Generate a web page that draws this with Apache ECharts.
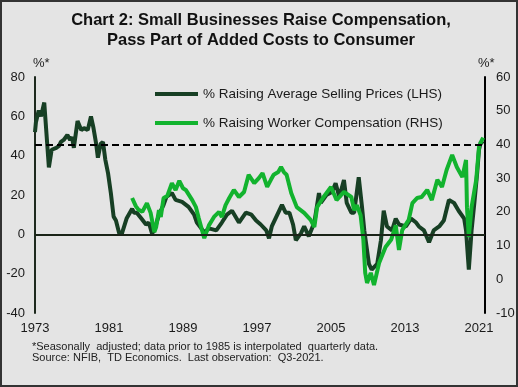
<!DOCTYPE html>
<html>
<head>
<meta charset="utf-8">
<script src="https://cdn.jsdelivr.net/npm/echarts@6/dist/echarts.min.js"></script>
<style>
html,body{margin:0;padding:0;background:#e4e4e4;}
#chart{width:518px;height:387px;}
</style>
</head>
<body>
<div id="chart"></div>
<script>
// ---- Data ----
const titleLines = ['Chart 2: Small Businesses Raise Compensation,', 'Pass Part of Added Costs to Consumer'];
const seriesNames = ['% Raising Average Selling Prices (LHS)', '% Raising Worker Compensation (RHS)'];
const footnotes = ['*Seasonally  adjusted; data prior to 1985 is interpolated  quarterly data.', 'Source: NFIB,  TD Economics.  Last observation:  Q3-2021.'];
const startYear = 1973;
const leftTicks = [-40, 80, 20];   // min, max, step
const rightTicks = [-10, 60, 10];
const refLineRHS = 40;

const priceYears = [1973.0,1973.1,1973.4,1973.65,1974.0,1974.5,1974.8,1975.3,1975.6,1975.8,1976.1,1976.5,1976.8,1977.0,1977.2,1977.6,1978.0,1978.3,1978.7,1979.05,1979.3,1979.6,1979.8,1980.1,1980.35,1980.6,1980.9,1981.2,1981.5,1981.75,1982.1,1982.4,1982.9,1983.5,1983.7,1984.0,1984.5,1985.0,1985.3,1985.65,1985.9,1986.4,1986.9,1987.2,1987.8,1988.2,1988.9,1989.6,1990.2,1990.5,1991.3,1991.8,1992.6,1993.2,1993.75,1994.3,1995.05,1995.8,1996.4,1996.9,1997.4,1998.0,1998.3,1998.6,1999.2,1999.7,2000.1,2000.5,2000.9,2001.2,2001.75,2002.1,2002.6,2003.2,2003.7,2003.9,2004.5,2005.1,2005.5,2005.9,2006.4,2006.7,2007.2,2007.5,2008.0,2008.35,2008.6,2009.1,2009.4,2010.0,2010.4,2010.7,2011.05,2011.6,2012.0,2012.35,2013.1,2013.65,2014.2,2014.5,2015.05,2015.6,2016.1,2016.7,2017.2,2017.75,2018.3,2018.8,2019.4,2019.6,2019.9,2020.2,2020.5,2020.8,2021.0,2021.2,2021.45];
const priceValues = [52,57,63,60,67,34,43,44,45,47,48,50.5,48,49.5,44,57.6,53,54,53,60,54.6,46.4,39,46,47,38,31,21,9,7,0.5,0.5,8,13,11,11,8,5,6,0.5,2,10,15,19,21,17.5,16.5,14,10,6,1,3,2,6,10,12,6,11,10,7,5,2,-2,4,10,15,11,11,5,-3,0.5,4,-1,6,21,16,20,21.5,26,19,27.6,16,11,11,29,14,2,-15,-18,-15,-3,12,4,2,8,5,4,8,6,4,2,-4,2,4,7,17.5,16,12,8,2,-18,2,16,31,43,47,46];

const compYears = [1983.5,1983.9,1984.2,1984.6,1985.1,1985.5,1985.9,1986.1,1986.4,1986.6,1986.9,1987.3,1987.8,1988.2,1988.6,1989.0,1989.3,1990.0,1990.4,1990.7,1991.05,1991.3,1991.8,1992.35,1992.9,1993.2,1993.6,1994.0,1994.5,1995.05,1995.6,1996.1,1996.7,1997.2,1997.6,1998.1,1998.5,1998.8,1999.3,1999.6,1999.9,2000.2,2000.7,2001.3,2002.1,2002.8,2003.2,2003.5,2004.2,2005.0,2005.6,2006.4,2007.2,2007.5,2007.8,2008.2,2008.5,2008.7,2008.9,2009.3,2009.65,2010.2,2010.9,2011.5,2012.0,2012.35,2012.7,2013.4,2013.8,2014.3,2014.8,2015.4,2015.9,2016.5,2017.0,2017.5,2018.1,2018.6,2019.2,2019.6,2019.7,2019.9,2020.2,2020.7,2021.0,2021.2,2021.45];
const compValues = [24.1,21.7,20.6,20,22.6,19.7,14,15.5,20.5,18.5,24.1,24.7,28.5,26.5,29.2,27,26.5,23.5,21.4,18.2,14.6,12.2,16,18.5,20,18.5,22,24.1,26.5,24.4,25.9,31,28.5,30,31.5,27.4,29.5,31,31.8,33.3,31.8,31,25.6,21.4,19.7,17.6,15.5,21.4,24.4,27.4,23.5,25.9,24.4,20.5,22,19,11.7,1.9,-1.1,1.9,-1.7,4.8,9.6,11.7,16,8.7,14.6,17.6,22.6,24.1,24.4,26.5,23.5,29.5,27.4,32.4,36.9,33.3,30.3,35.4,21.4,12.5,21.4,29.5,39.2,40.7,42];

// ---- Chart ----
const darkGreen = '#173f24';
const brightGreen = '#12b32e';
const font = 'Arial, "Liberation Sans", sans-serif';

const priceData = priceYears.map((y, i) => [y - startYear, priceValues[i]]);
const compData = compYears.map((y, i) => [y - startYear, compValues[i]]);

const chart = echarts.init(document.getElementById('chart'), null, {renderer: 'canvas'});
chart.setOption({
  backgroundColor: '#e4e4e4',
  animation: false,
  textStyle: {fontFamily: font},
  grid: {left: 35, right: 33, top: 77, bottom: 74, containLabel: false},
  graphic: [
    {type: 'rect', shape: {x: 1, y: 1, width: 516, height: 385}, style: {fill: 'none', stroke: '#333', lineWidth: 2}, silent: true},
    {type: 'text', x: 261, y: 20, style: {text: titleLines[0], font: 'bold 16.5px ' + font, fill: '#111', textAlign: 'center', textVerticalAlign: 'middle'}},
    {type: 'text', x: 261, y: 40, style: {text: titleLines[1], font: 'bold 16.5px ' + font, fill: '#111', textAlign: 'center', textVerticalAlign: 'middle'}},
    {type: 'text', x: 33, y: 63, style: {text: '%*', font: '13px ' + font, fill: '#222', textAlign: 'left', textVerticalAlign: 'middle'}},
    {type: 'text', x: 478, y: 63, style: {text: '%*', font: '13px ' + font, fill: '#222', textAlign: 'left', textVerticalAlign: 'middle'}},
    {type: 'text', x: 32, y: 347, style: {text: footnotes[0], font: '11px ' + font, fill: '#222', textAlign: 'left', textVerticalAlign: 'middle'}},
    {type: 'text', x: 32, y: 358, style: {text: footnotes[1], font: '11px ' + font, fill: '#222', textAlign: 'left', textVerticalAlign: 'middle'}}
  ],
  legend: {
    orient: 'vertical', left: 155, top: 86, padding: 0, itemWidth: 43, itemHeight: 4, itemGap: 13,
    icon: 'rect',
    textStyle: {fontSize: 13.5, color: '#1a1a1a', lineHeight: 16, fontFamily: font},
    data: seriesNames
  },
  xAxis: {
    type: 'value', min: 0, max: 48.65, interval: 8,
    axisLine: {show: false}, axisTick: {show: false}, splitLine: {show: false},
    axisLabel: {fontSize: 13, color: '#1a1a1a', margin: 9, formatter: v => (v % 8 === 0 ? String(startYear + v) : '')}
  },
  yAxis: [
    {type: 'value', min: leftTicks[0], max: leftTicks[1], interval: leftTicks[2], position: 'left',
     axisLine: {show: true, onZero: false, lineStyle: {color: '#1e2a1e', width: 2}}, axisTick: {show: false}, splitLine: {show: false},
     axisLabel: {fontSize: 13, color: '#1a1a1a', margin: 10}},
    {type: 'value', min: rightTicks[0], max: rightTicks[1], interval: rightTicks[2], position: 'right',
     axisLine: {show: true, onZero: false, lineStyle: {color: '#000', width: 2}}, axisTick: {show: false}, splitLine: {show: false},
     axisLabel: {fontSize: 13, color: '#1a1a1a', margin: 11}}
  ],
  series: [
    {name: seriesNames[0], type: 'line', yAxisIndex: 0, data: priceData, showSymbol: false, symbol: 'none',
     lineStyle: {color: darkGreen, width: 4}, itemStyle: {color: darkGreen}, z: 2,
     markLine: {silent: true, symbol: 'none', label: {show: false}, lineStyle: {color: '#1a2418', width: 2, type: 'solid'}, data: [{yAxis: 0}]}},
    {name: seriesNames[1], type: 'line', yAxisIndex: 1, data: compData, showSymbol: false, symbol: 'none',
     lineStyle: {color: brightGreen, width: 4}, itemStyle: {color: brightGreen}, z: 3,
     markLine: {silent: true, symbol: 'none', label: {show: false}, lineStyle: {color: '#000', width: 2, type: [7, 4]}, data: [{yAxis: refLineRHS}]}}
  ]
});
</script>
</body>
</html>
